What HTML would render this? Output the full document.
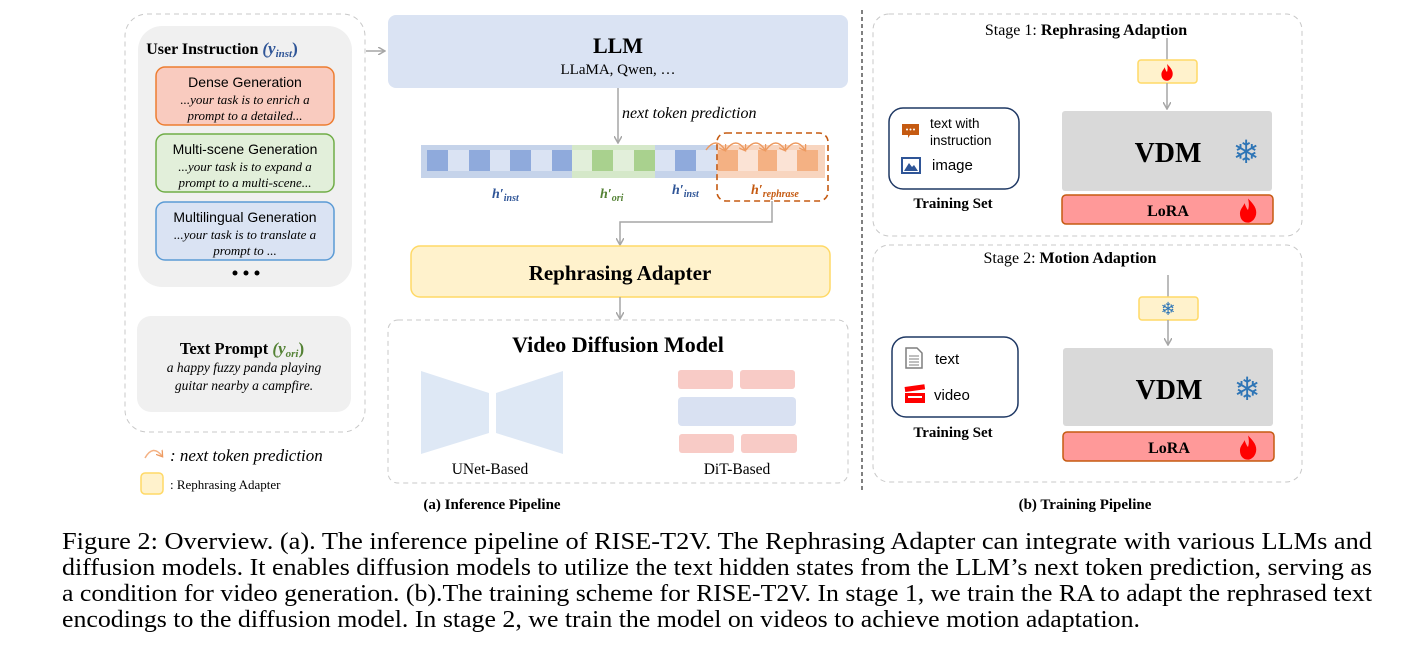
<!DOCTYPE html>
<html><head><meta charset="utf-8"><style>
html,body{margin:0;padding:0;background:#fff;}
svg{display:block;}
.s{font-family:"Liberation Serif",serif;}
.a{font-family:"Liberation Sans","DejaVu Sans",sans-serif;}
</style></head><body>
<svg width="1428" height="647" viewBox="0 0 1428 647" xmlns="http://www.w3.org/2000/svg">
<defs>
<marker id="ar" markerWidth="8" markerHeight="8" refX="6" refY="4" orient="auto" markerUnits="userSpaceOnUse"><path d="M0,0 L7,4 L0,8" fill="none" stroke="#a6a6a6" stroke-width="1.5"/></marker>
<marker id="ao" markerWidth="8" markerHeight="8" refX="5" refY="4" orient="auto" markerUnits="userSpaceOnUse"><path d="M0,0 L6,4 L0,8" fill="none" stroke="#ed9a60" stroke-width="1.3"/></marker>
<g id="flame"><path d="M0,-10 C5,-5 8,-1 7,4 C6,9 2,11 0,11 C-4,11 -7,8 -7,3 C-7,-1 -4,-3 -3,-6 C-2,-3 -1,-1 0,0 C1,-3 1,-6 0,-10Z" fill="#f00"/></g>
</defs>

<!-- Left panel -->
<rect x="125" y="14" width="240" height="418" rx="22" fill="none" stroke="#c8c8c8" stroke-dasharray="5,4"/>
<rect x="138" y="26" width="214" height="261" rx="24" fill="#f0f0f0"/>
<text class="s" x="222" y="54" text-anchor="middle" font-size="16" font-weight="bold">User Instruction <tspan fill="#2f5597" font-style="italic" font-size="17">(y</tspan><tspan fill="#2f5597" font-style="italic" font-size="11" dy="3">inst</tspan><tspan fill="#2f5597" font-size="17" dy="-3">)</tspan></text>
<rect x="156" y="67" width="178" height="58" rx="9" fill="#f9cbbf" stroke="#ed7d31" stroke-width="1.5"/>
<text class="a" x="245" y="87" text-anchor="middle" font-size="14">Dense Generation</text>
<text class="s" x="245" y="104" text-anchor="middle" font-size="13" font-style="italic">...your task is to enrich a</text>
<text class="s" x="245" y="120" text-anchor="middle" font-size="13" font-style="italic">prompt to a detailed...</text>
<rect x="156" y="134" width="178" height="58" rx="9" fill="#e2efda" stroke="#70ad47" stroke-width="1.5"/>
<text class="a" x="245" y="154" text-anchor="middle" font-size="14">Multi-scene Generation</text>
<text class="s" x="245" y="171" text-anchor="middle" font-size="13" font-style="italic">...your task is to expand a</text>
<text class="s" x="245" y="187" text-anchor="middle" font-size="13" font-style="italic">prompt to a multi-scene...</text>
<rect x="156" y="202" width="178" height="58" rx="9" fill="#dae3f3" stroke="#5b9bd5" stroke-width="1.5"/>
<text class="a" x="245" y="222" text-anchor="middle" font-size="14">Multilingual Generation</text>
<text class="s" x="245" y="239" text-anchor="middle" font-size="13" font-style="italic">...your task is to translate a</text>
<text class="s" x="245" y="255" text-anchor="middle" font-size="13" font-style="italic">prompt to ...</text>
<circle cx="235" cy="273" r="2.5"/><circle cx="246" cy="273" r="2.5"/><circle cx="257" cy="273" r="2.5"/>
<rect x="137" y="316" width="214" height="96" rx="14" fill="#f0f0f0"/>
<text class="s" x="242" y="354" text-anchor="middle" font-size="16.5" font-weight="bold">Text Prompt <tspan fill="#548235" font-style="italic" font-size="17">(y</tspan><tspan fill="#548235" font-style="italic" font-size="11" dy="3">ori</tspan><tspan fill="#548235" font-size="17" dy="-3">)</tspan></text>
<text class="s" x="244" y="372" text-anchor="middle" font-size="13.5" font-style="italic">a happy fuzzy panda playing</text>
<text class="s" x="244" y="390" text-anchor="middle" font-size="13.5" font-style="italic">guitar nearby a campfire.</text>
<path d="M145,458 Q153,444 162,456" fill="none" stroke="#f4b183" stroke-width="1.5" marker-end="url(#ao)"/>
<text class="s" x="170" y="461" font-size="17" font-style="italic">: next token prediction</text>
<rect x="141" y="473" width="22" height="21" rx="4" fill="#fff2cc" stroke="#ffd966" stroke-width="1.5"/>
<text class="s" x="170" y="489" font-size="13">: Rephrasing Adapter</text>
<line x1="366" y1="51" x2="384" y2="51" stroke="#a6a6a6" stroke-width="1.5" marker-end="url(#ar)"/>

<!-- LLM -->
<rect x="388" y="15" width="460" height="73" rx="8" fill="#dae3f3"/>
<text class="s" x="618" y="53" text-anchor="middle" font-size="22" font-weight="bold">LLM</text>
<text class="s" x="618" y="74" text-anchor="middle" font-size="15">LLaMA, Qwen, …</text>
<line x1="618" y1="88" x2="618" y2="142" stroke="#a6a6a6" stroke-width="1.5" marker-end="url(#ar)"/>
<text class="s" x="622" y="118" font-size="16" font-style="italic">next token prediction</text>

<!-- tokens -->
<rect x="421" y="145" width="152" height="33" fill="#c5d3ea"/>
<rect x="572" y="145" width="83" height="33" fill="#d5e8c9"/>
<rect x="655" y="145" width="63" height="33" fill="#c5d3ea"/>
<rect x="717" y="145" width="108" height="33" fill="#f8d5bf"/>
<g>
<rect x="427" y="150" width="21" height="21" fill="#8faadc"/><rect x="448" y="150" width="21" height="21" fill="#dae3f3"/>
<rect x="469" y="150" width="21" height="21" fill="#8faadc"/><rect x="490" y="150" width="20" height="21" fill="#dae3f3"/>
<rect x="510" y="150" width="21" height="21" fill="#8faadc"/><rect x="531" y="150" width="21" height="21" fill="#dae3f3"/>
<rect x="552" y="150" width="20" height="21" fill="#8faadc"/>
<rect x="572" y="150" width="20" height="21" fill="#e2efda"/><rect x="592" y="150" width="21" height="21" fill="#a9d18e"/>
<rect x="613" y="150" width="21" height="21" fill="#e2efda"/><rect x="634" y="150" width="21" height="21" fill="#a9d18e"/>
<rect x="655" y="150" width="20" height="21" fill="#dae3f3"/><rect x="675" y="150" width="21" height="21" fill="#8faadc"/>
<rect x="696" y="150" width="21" height="21" fill="#dae3f3"/>
<rect x="718" y="150" width="20" height="21" fill="#f4b183"/><rect x="738" y="150" width="20" height="21" fill="#fbe3d5"/>
<rect x="758" y="150" width="19" height="21" fill="#f4b183"/><rect x="777" y="150" width="20" height="21" fill="#fbe3d5"/>
<rect x="797" y="150" width="21" height="21" fill="#f4b183"/>
</g>
<g fill="none" stroke="#ed9a60" stroke-width="1.4">
<path d="M706,150 Q716,136 725,150" marker-end="url(#ao)"/>
<path d="M726,150 Q736,136 745,150" marker-end="url(#ao)"/>
<path d="M746,150 Q756,136 765,150" marker-end="url(#ao)"/>
<path d="M766,150 Q776,136 785,150" marker-end="url(#ao)"/>
<path d="M786,150 Q796,136 805,150" marker-end="url(#ao)"/>
</g>
<rect x="717" y="133" width="111" height="68" rx="9" fill="none" stroke="#c55a11" stroke-width="1.6" stroke-dasharray="6,4"/>
<g class="s" font-weight="bold" font-style="italic">
<text x="492" y="198" font-size="14" fill="#2f5597">h′<tspan font-size="10" dy="3">inst</tspan></text>
<text x="600" y="198" font-size="14" fill="#548235">h′<tspan font-size="10" dy="3">ori</tspan></text>
<text x="672" y="194" font-size="14" fill="#2f5597">h′<tspan font-size="10" dy="3">inst</tspan></text>
<text x="751" y="194" font-size="14" fill="#c55a11">h′<tspan font-size="10" dy="3">rephrase</tspan></text>
</g>
<path d="M772,201 V222 H620 V244" fill="none" stroke="#a6a6a6" stroke-width="1.5" marker-end="url(#ar)"/>

<rect x="411" y="246" width="419" height="51" rx="9" fill="#fff2cc" stroke="#ffd966" stroke-width="1.5"/>
<text class="s" x="620" y="280" text-anchor="middle" font-size="21" font-weight="bold">Rephrasing Adapter</text>
<line x1="620" y1="297" x2="620" y2="318" stroke="#a6a6a6" stroke-width="1.5" marker-end="url(#ar)"/>

<rect x="388" y="320" width="460" height="163" rx="10" fill="none" stroke="#c8c8c8" stroke-dasharray="5,4"/>
<text class="s" x="618" y="352" text-anchor="middle" font-size="22" font-weight="bold">Video Diffusion Model</text>
<polygon points="421,371 489,393 489,433 421,454" fill="#dee8f5"/>
<polygon points="563,371 496,393 496,433 563,454" fill="#dee8f5"/>
<rect x="678" y="370" width="55" height="19" rx="3" fill="#f8cbc6"/>
<rect x="740" y="370" width="55" height="19" rx="3" fill="#f8cbc6"/>
<rect x="678" y="397" width="118" height="29" rx="4" fill="#d9e1f2"/>
<rect x="679" y="434" width="55" height="19" rx="3" fill="#f8cbc6"/>
<rect x="741" y="434" width="56" height="19" rx="3" fill="#f8cbc6"/>
<text class="s" x="490" y="474" text-anchor="middle" font-size="15.5">UNet-Based</text>
<text class="s" x="737" y="474" text-anchor="middle" font-size="15.5">DiT-Based</text>
<text class="s" x="492" y="509" text-anchor="middle" font-size="15" font-weight="bold">(a) Inference Pipeline</text>

<line x1="862" y1="10" x2="862" y2="490" stroke="#000" stroke-dasharray="4,3"/>

<!-- Stage 1 -->
<rect x="873" y="14" width="429" height="222" rx="16" fill="none" stroke="#c8c8c8" stroke-dasharray="5,4"/>
<text class="s" x="1086" y="35" text-anchor="middle" font-size="16">Stage 1: <tspan font-weight="bold">Rephrasing Adaption</tspan></text>
<line x1="1167" y1="38" x2="1167" y2="60" stroke="#a6a6a6" stroke-width="1.5"/>
<rect x="1138" y="60" width="59" height="23" rx="3" fill="#fff2cc" stroke="#ffd966" stroke-width="1.5"/>
<use href="#flame" transform="translate(1167,72) scale(0.8)"/>
<line x1="1167" y1="83" x2="1167" y2="108" stroke="#a6a6a6" stroke-width="1.5" marker-end="url(#ar)"/>
<rect x="1062" y="111" width="210" height="80" rx="3" fill="#d9d9d9"/>
<text class="s" x="1168" y="162" text-anchor="middle" font-size="28" font-weight="bold">VDM</text>
<text x="1246" y="163" text-anchor="middle" font-size="32" fill="#2e75b6" font-family="DejaVu Sans,sans-serif">❄</text>
<rect x="1062" y="195" width="211" height="29" rx="4" fill="#ff9999" stroke="#c55a11" stroke-width="1.5"/>
<text class="s" x="1168" y="216" text-anchor="middle" font-size="16" font-weight="bold">LoRA</text>
<use href="#flame" transform="translate(1248,210) scale(1.15)"/>
<rect x="889" y="108" width="130" height="81" rx="14" fill="#fff" stroke="#1f3864" stroke-width="1.5"/>
<path d="M902,124 h17 v11 h-9 l-2,3 v-3 h-6z" fill="#c55a11"/>
<circle cx="907" cy="129.5" r="1" fill="#fff"/><circle cx="910.5" cy="129.5" r="1" fill="#fff"/><circle cx="914" cy="129.5" r="1" fill="#fff"/>
<rect x="902" y="158" width="18" height="15" fill="#fff" stroke="#2f5597" stroke-width="2"/>
<path d="M904,171 l5,-8 l3,4 l2,-2 l4,6z" fill="#2f5597"/>
<text class="a" x="930" y="128" font-size="13.5">text with</text>
<text class="a" x="930" y="145" font-size="13.5">instruction</text>
<text class="a" x="932" y="170" font-size="15">image</text>
<text class="s" x="953" y="208" text-anchor="middle" font-size="15" font-weight="bold">Training Set</text>

<!-- Stage 2 -->
<rect x="873" y="245" width="429" height="237" rx="16" fill="none" stroke="#c8c8c8" stroke-dasharray="5,4"/>
<text class="s" x="1070" y="263" text-anchor="middle" font-size="16">Stage 2: <tspan font-weight="bold">Motion Adaption</tspan></text>
<line x1="1168" y1="275" x2="1168" y2="297" stroke="#a6a6a6" stroke-width="1.5"/>
<rect x="1139" y="297" width="59" height="23" rx="3" fill="#fff2cc" stroke="#ffd966" stroke-width="1.5"/>
<text x="1168" y="315" text-anchor="middle" font-size="18" fill="#2e75b6" font-family="DejaVu Sans,sans-serif">❄</text>
<line x1="1168" y1="320" x2="1168" y2="344" stroke="#a6a6a6" stroke-width="1.5" marker-end="url(#ar)"/>
<rect x="1063" y="348" width="210" height="78" rx="3" fill="#d9d9d9"/>
<text class="s" x="1169" y="399" text-anchor="middle" font-size="28" font-weight="bold">VDM</text>
<text x="1247" y="400" text-anchor="middle" font-size="32" fill="#2e75b6" font-family="DejaVu Sans,sans-serif">❄</text>
<rect x="1063" y="432" width="211" height="29" rx="4" fill="#ff9999" stroke="#c55a11" stroke-width="1.5"/>
<text class="s" x="1169" y="453" text-anchor="middle" font-size="16" font-weight="bold">LoRA</text>
<use href="#flame" transform="translate(1248,447) scale(1.15)"/>
<rect x="892" y="337" width="126" height="80" rx="14" fill="#fff" stroke="#1f3864" stroke-width="1.5"/>
<path d="M906,348 h11 l5,5 v15 h-16z" fill="#fff" stroke="#7f7f7f" stroke-width="1.5"/>
<g stroke="#7f7f7f"><line x1="909" y1="356" x2="919" y2="356"/><line x1="909" y1="359" x2="919" y2="359"/><line x1="909" y1="362" x2="919" y2="362"/><line x1="909" y1="365" x2="919" y2="365"/></g>
<rect x="905" y="387" width="20" height="5" fill="#f00" transform="rotate(-8 905 390)"/>
<rect x="905" y="393" width="20" height="10" fill="#f00"/>
<rect x="908" y="396" width="14" height="2" fill="#fff"/>
<text class="a" x="935" y="364" font-size="15">text</text>
<text class="a" x="934" y="400" font-size="15">video</text>
<text class="s" x="953" y="437" text-anchor="middle" font-size="15" font-weight="bold">Training Set</text>
<text class="s" x="1085" y="509" text-anchor="middle" font-size="15" font-weight="bold">(b) Training Pipeline</text>

<!-- caption -->
<g class="s" font-size="24">
<text x="62" y="549" textLength="1310" lengthAdjust="spacingAndGlyphs">Figure 2: Overview. (a). The inference pipeline of RISE-T2V. The Rephrasing Adapter can integrate with various LLMs and</text>
<text x="62" y="575" textLength="1310" lengthAdjust="spacingAndGlyphs">diffusion models. It enables diffusion models to utilize the text hidden states from the LLM’s next token prediction, serving as</text>
<text x="62" y="601" textLength="1310" lengthAdjust="spacingAndGlyphs">a condition for video generation. (b).The training scheme for RISE-T2V. In stage 1, we train the RA to adapt the rephrased text</text>
<text x="62" y="627" textLength="1078" lengthAdjust="spacingAndGlyphs">encodings to the diffusion model. In stage 2, we train the model on videos to achieve motion adaptation.</text>
</g>
</svg>
</body></html>
